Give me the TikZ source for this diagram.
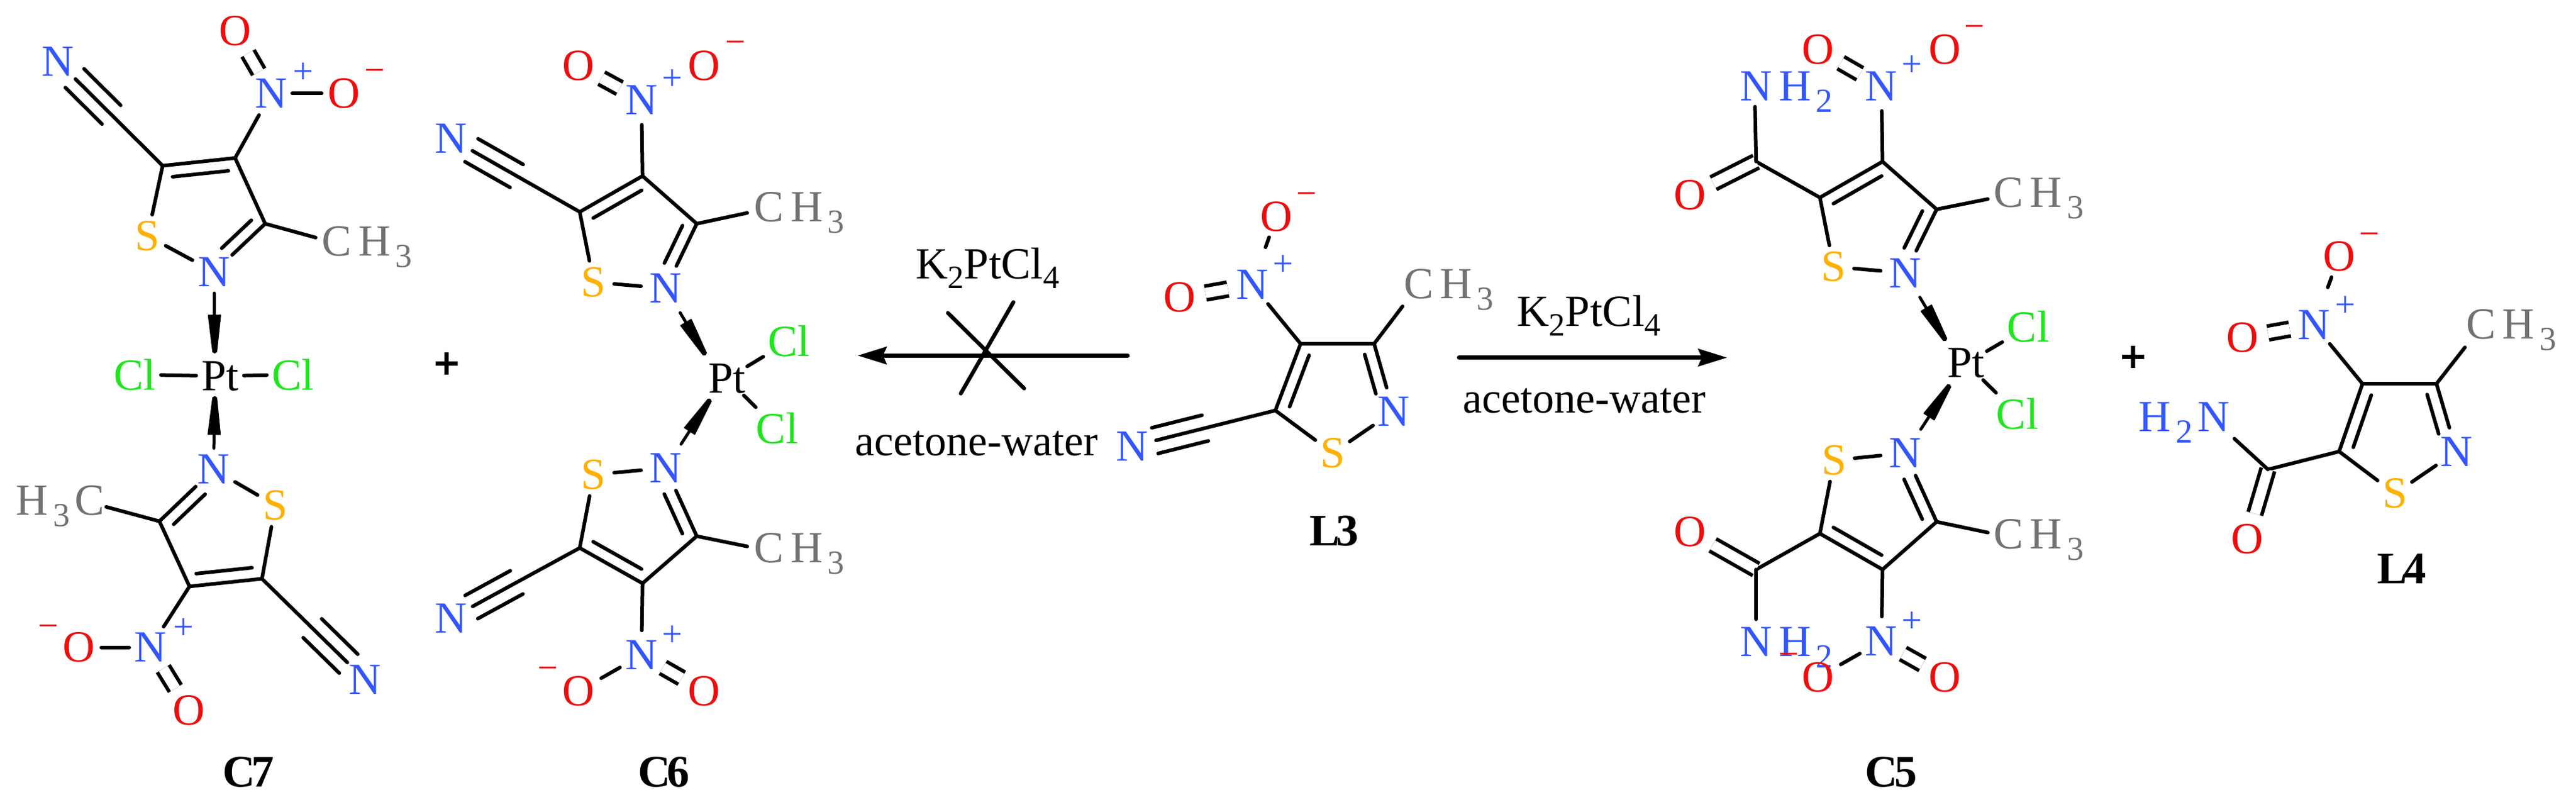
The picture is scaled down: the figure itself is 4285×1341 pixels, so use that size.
\documentclass[tikz,border=0pt]{standalone}
\usepackage{fontspec}
\setmainfont{Liberation Serif}
\usetikzlibrary{calc,arrows.meta}
\definecolor{cN}{HTML}{3355FF}
\definecolor{cO}{HTML}{EE0D0D}
\definecolor{cS}{HTML}{FFB000}
\definecolor{cCl}{HTML}{1EE61E}
\definecolor{cMe}{HTML}{727272}
\newcommand\subt[1]{\raisebox{-16pt}{\fontsize{54}{54}\selectfont #1}}
\newcommand\subg[1]{\hspace{8pt}\raisebox{-19pt}{\fontsize{56}{56}\selectfont #1}}
\newcommand\gapH{\hspace{11pt}}
\tikzset{
  bond/.style={line width=6pt,line cap=round,black},
  arrowline/.style={line width=6.5pt,line cap=round,black,-{Stealth[length=48pt,width=29pt,inset=6pt]}},
  crossline/.style={line width=6.5pt,line cap=round,black},
  dative line/.style={line width=5pt,line cap=round,black},
  dblbond/.style={line width=6pt,double,double distance=17pt,black},
  atom/.style={circle,inner sep=0pt,font=\fontsize{74}{74}\selectfont},
  atomN/.style={atom,text=cN,minimum size=82pt},
  atomO/.style={atom,text=cO,minimum size=86pt},
  atomS/.style={atom,text=cS,minimum size=72pt},
  atomCl/.style={atom,text=cCl,minimum size=86pt},
  atomPt/.style={atom,text=black},
  grp/.style={inner sep=0pt,anchor=base west,yshift=-24.5pt,font=\fontsize{74}{74}\selectfont},
  group/.style={grp,text=cMe},
  amine/.style={grp,text=cN},
  charge/.style={inner sep=0pt,font=\fontsize{60}{60}\selectfont},
  label/.style={inner sep=0pt,font=\fontsize{75}{75}\selectfont\bfseries},
  plussign/.style={inner sep=0pt,font=\fontsize{75}{75}\selectfont\bfseries\addfontfeature{FakeBold=2.5}},
  reagent/.style={inner sep=0pt,anchor=base west,font=\fontsize{74}{74}\selectfont},
  solvent/.style={inner sep=0pt,anchor=base west,font=\fontsize{72}{72}\selectfont},
  unitA/.style={x=0.8929pt,y=-0.8532pt},
  unitB/.style={shift={(1400pt,0pt)},x=0.8929pt,y=-0.8532pt},
  unitC/.style={shift={(2800pt,0pt)},x=0.947pt,y=-0.8532pt},
}
\newcommand\dbl[5]{\draw[bond] ($(#1)!#3!(#2)!#5!90:(#2)$) -- ($(#1)!#4!(#2)!#5!90:(#2)$);}
\newcommand\ring[7]{%
  \coordinate (#1-a) at (#2);
  \coordinate (#1-b) at (#3);
  \coordinate (#1-c) at (#4);
  \node[atomN] (#1-n) at (#5) {N};
  \node[atomS] (#1-s) at (#6) {S};
  \draw[bond] (#1-s) -- (#1-a) -- (#1-b) -- (#1-c) -- (#1-n);
  \draw[bond,shorten >=-2pt] (#1-n) -- (#1-s);
  \dbl{#1-a}{#1-b}{.12}{.89}{#7}
  \dbl{#1-c}{#1-n}{.11}{.69}{#7}
}
\newcommand\nitrile[2]{%
  \draw[bond] (#1) -- (#2);
  \dbl{#1}{#2}{.49}{.84}{22pt}
  \dbl{#1}{#2}{.49}{.84}{-22pt}
}
\newcommand\dative[3]{%
  \draw[dative line,shorten <=#3] (#1) -- (#2);
  \fill[black,draw=black,line width=2pt,line join=round]
    ($(#2)!3pt!90:(#1)$) -- ($(#2)!61pt!(#1)!10pt!90:(#1)$) --
    ($(#2)!61pt!(#1)!10pt!-90:(#1)$) -- ($(#2)!3pt!-90:(#1)$) -- cycle;
}
\begin{document}
\begin{tikzpicture}[x=1pt,y=-1pt]
\useasboundingbox (0,0) rectangle (4285,1341);
\begin{scope}[unitA]
  % C7 top
  \ring{p}{303,323}{438,308}{494,436}{399,530}{275,460}{-20pt}
  \node[atomN] (p-cn) at (108,120) {N};
  \nitrile{p-a}{p-cn}
  \node[atomN] (p-np) at (505,182) {N};
  \node[charge,text=cN] (p-pl) at (565,143) {+};
  \node[atomO] (p-o) at (438,60) {O};
  \node[atomO] (p-om) at (641,182) {O};
  \node[charge,text=cO] (p-mi) at (698,148) {−};
  \draw[bond] (p-b) -- (p-np);
  \draw[dblbond] (p-np) -- (p-o);
  \draw[bond,shorten <=-6pt,shorten >=-6pt] (p-np) -- (p-om);
  \node[group] (p-me) at (600,470) {C\gapH H\subg{3}};
  \coordinate (p-me1) at (588,463);
  \draw[bond] (p-c) -- (p-me1);
  % C7 bottom
  \ring{q}{488,1128}{353,1143}{297,1016}{398,915}{513,985}{-20pt}
  \node[atomN] (q-cn) at (680,1325) {N};
  \nitrile{q-a}{q-cn}
  \node[atomN] (q-np) at (280,1262) {N};
  \node[charge,text=cN] (q-pl) at (342,1225) {+};
  \node[atomO] (q-om) at (147,1262) {O};
  \node[charge,text=cO] (q-mi) at (90,1230) {−};
  \node[atomO] (q-o) at (352,1385) {O};
  \draw[bond] (q-b) -- (q-np);
  \draw[dblbond] (q-np) -- (q-o);
  \draw[bond,shorten <=-6pt,shorten >=-6pt] (q-np) -- (q-om);
  \node[group] (q-me) at (30,975) {H\subg{3}\hspace{8pt}C};
  \coordinate (q-me1) at (198,988);
  \draw[bond] (q-c) -- (q-me1);
  % C7 metal centre
  \node[atomPt] (pt7) at (410,733) {Pt};
  \node[atomCl] (cl7a) at (251,730) {Cl};
  \node[atomCl] (cl7b) at (546,730) {Cl};
  \draw[bond] (cl7a) -- (pt7);
  \draw[bond] (pt7) -- (cl7b);
  \coordinate (t7a) at (400,686);
  \coordinate (t7b) at (400,775);
  \dative{p-n}{t7a}{-6pt}
  \dative{q-n}{t7b}{-6pt}
  \node[label] (c7) at (463,1505) {C\kern-6pt 7};
  \node[plussign] (plus1) at (832,713) {+};
  % C6 top
  \ring{r}{1080,413}{1197,343}{1298,436}{1240,562}{1106,550}{-20pt}
  \node[atomN] (r-cn) at (840,270) {N};
  \nitrile{r-a}{r-cn}
  \node[atomN] (r-np) at (1195,195) {N};
  \node[charge,text=cN] (r-pl) at (1253,155) {+};
  \node[atomO] (r-o) at (1078,128) {O};
  \node[atomO] (r-om) at (1312,128) {O};
  \node[charge,text=cO] (r-mi) at (1370,92) {−};
  \draw[bond] (r-b) -- (r-np);
  \draw[dblbond] (r-np) -- (r-o);
  \node[group] (r-me) at (1405,403) {C\gapH H\subg{3}};
  \coordinate (r-me1) at (1392,415);
  \draw[bond] (r-c) -- (r-me1);
  % C6 bottom
  \ring{s}{1080,1068}{1197,1137}{1298,1045}{1240,912}{1106,925}{20pt}
  \node[atomN] (s-cn) at (840,1205) {N};
  \nitrile{s-a}{s-cn}
  \node[atomN] (s-np) at (1195,1277) {N};
  \node[charge,text=cN] (s-pl) at (1253,1240) {+};
  \node[atomO] (s-om) at (1078,1347) {O};
  \node[charge,text=cO] (s-mi) at (1021,1313) {−};
  \node[atomO] (s-o) at (1312,1347) {O};
  \draw[bond] (s-b) -- (s-np);
  \draw[dblbond] (s-np) -- (s-o);
  \draw[bond] (s-np) -- (s-om);
  \node[group] (s-me) at (1405,1068) {C\gapH H\subg{3}};
  \coordinate (s-me1) at (1392,1065);
  \draw[bond] (s-c) -- (s-me1);
  % C6 metal centre
  \node[atomPt] (pt6) at (1354,738) {Pt};
  \node[atomCl,minimum size=100pt] (cl6a) at (1470,665) {Cl};
  \node[atomCl,minimum size=100pt] (cl6b) at (1448,835) {Cl};
  \draw[bond] (pt6) -- (cl6a);
  \draw[bond] (pt6) -- (cl6b);
  \coordinate (t6a) at (1313,690);
  \coordinate (t6b) at (1322,780);
  \dative{r-n}{t6a}{6pt}
  \dative{s-n}{t6b}{6pt}
  \node[label] (c6) at (1237,1505) {C\kern-6pt 6};
\end{scope}
\begin{scope}[unitB]
  \coordinate (la1) at (533,693);
  \coordinate (la2) at (30,693);
  \draw[arrowline] (la1) -- (la2);
  \coordinate (x1a) at (198,610);
  \coordinate (x1b) at (340,757);
  \coordinate (x2a) at (320,589);
  \coordinate (x2b) at (222,767);
  \draw[crossline] (x1a) -- (x1b);
  \draw[crossline] (x2a) -- (x2b);
  \node[reagent,yshift=-24.5pt] (k1) at (138,515) {K\subt{2}PtCl\subt{4}};
  \node[solvent] (aw1) at (25,888) {acetone-water};
  \ring{l}{808,800}{855,670}{992,670}{1028,802}{915,883}{-20pt}
  \node[atomN] (l-cn) at (541,870) {N};
  \nitrile{l-a}{l-cn}
  \node[atomN] (l-np) at (765,555) {N};
  \node[charge,text=cN] (l-pl) at (822,517) {+};
  \node[atomO] (l-o) at (630,580) {O};
  \node[atomO,minimum size=72pt] (l-om) at (810,422) {O};
  \node[charge,text=cO] (l-mi) at (866,388) {−};
  \draw[bond] (l-b) -- (l-np);
  \draw[dblbond] (l-np) -- (l-o);
  \draw[bond,shorten <=25pt] (l-np) -- (l-om);
  \node[group] (l-me) at (1047,553) {C\gapH H\subg{3}};
  \coordinate (l-me1) at (1045,597);
  \draw[bond] (l-c) -- (l-me1);
  \node[label] (l3) at (918,1035) {L\kern-6pt 3};
  \coordinate (ra1) at (1150,697);
  \node[reagent,yshift=-24.5pt] (k2) at (1258,607) {K\subt{2}PtCl\subt{4}};
  \node[solvent] (aw2) at (1157,805) {acetone-water};
\end{scope}
\begin{scope}[unitC]
  \coordinate (ra2) at (77,697);
  \draw[arrowline] (ra1) -- (ra2);
  % C5 top
  \ring{u}{240,385}{350,315}{445,408}{390,532}{264,520}{-20pt}
  \coordinate (u-k) at (128,315);
  \draw[bond] (u-a) -- (u-k);
  \node[atomO] (u-ko) at (12,380) {O};
  \draw[dblbond] (u-k) -- (u-ko);
  \node[amine] (u-nh) at (100,168) {N\gapH H\subg{2}};
  \coordinate (u-nh1) at (126,208);
  \draw[bond] (u-k) -- (u-nh1);
  \node[atomN] (u-np) at (348,168) {N};
  \node[charge,text=cN] (u-pl) at (402,128) {+};
  \node[atomO] (u-o) at (237,97) {O};
  \node[atomO] (u-om) at (460,97) {O};
  \node[charge,text=cO] (u-mi) at (512,62) {−};
  \draw[bond] (u-b) -- (u-np);
  \draw[dblbond] (u-np) -- (u-o);
  \node[group] (u-me) at (545,375) {C\gapH H\subg{3}};
  \coordinate (u-me1) at (535,388);
  \draw[bond] (u-c) -- (u-me1);
  % C5 bottom
  \ring{v}{240,1040}{350,1110}{445,1017}{390,883}{265,897}{20pt}
  \coordinate (v-k) at (128,1110);
  \draw[bond] (v-a) -- (v-k);
  \node[atomO] (v-ko) at (12,1037) {O};
  \draw[dblbond] (v-k) -- (v-ko);
  \node[amine] (v-nh) at (100,1250) {N\gapH H\subg{2}};
  \coordinate (v-nh1) at (128,1207);
  \draw[bond] (v-k) -- (v-nh1);
  \node[atomN] (v-np) at (348,1250) {N};
  \node[charge,text=cN] (v-pl) at (402,1212) {+};
  \node[atomO] (v-om) at (237,1320) {O};
  \node[charge,text=cO] (v-mi) at (185,1285) {−};
  \node[atomO] (v-o) at (460,1320) {O};
  \draw[bond] (v-b) -- (v-np);
  \draw[dblbond] (v-np) -- (v-o);
  \draw[bond] (v-np) -- (v-om);
  \node[group] (v-me) at (545,1041) {C\gapH H\subg{3}};
  \coordinate (v-me1) at (535,1038);
  \draw[bond] (v-c) -- (v-me1);
  % C5 metal centre
  \node[atomPt] (pt5) at (497,708) {Pt};
  \node[atomCl,minimum size=100pt] (cl5a) at (606,637) {Cl};
  \node[atomCl,minimum size=100pt] (cl5b) at (587,807) {Cl};
  \draw[bond] (pt5) -- (cl5a);
  \draw[bond] (pt5) -- (cl5b);
  \coordinate (t5a) at (460,662);
  \coordinate (t5b) at (467,752);
  \dative{u-n}{t5a}{6pt}
  \dative{v-n}{t5b}{6pt}
  \node[label] (c5) at (365,1505) {C\kern-6pt 5};
  \node[plussign] (plus2) at (790,700) {+};
  % L4
  \ring{w}{1152,880}{1193,748}{1323,748}{1358,880}{1250,962}{-20pt}
  \coordinate (w-k) at (1027,915);
  \draw[bond] (w-a) -- (w-k);
  \node[atomO] (w-ko) at (991,1050) {O};
  \draw[dblbond] (w-k) -- (w-ko);
  \node[amine] (w-nh) at (800,812) {H\subg{2}\hspace{8pt}N};
  \coordinate (w-nh1) at (968,855);
  \draw[bond] (w-k) -- (w-nh1);
  \node[atomN] (w-np) at (1108,633) {N};
  \node[charge,text=cN] (w-pl) at (1163,597) {+};
  \node[atomO] (w-o) at (982,658) {O};
  \node[atomO,minimum size=72pt] (w-om) at (1152,500) {O};
  \node[charge,text=cO] (w-mi) at (1205,466) {−};
  \draw[bond] (w-b) -- (w-np);
  \draw[dblbond] (w-np) -- (w-o);
  \draw[bond,shorten <=25pt] (w-np) -- (w-om);
  \node[group] (w-me) at (1375,632) {C\gapH H\subg{3}};
  \coordinate (w-me1) at (1373,677);
  \draw[bond] (w-c) -- (w-me1);
  \node[label] (l4) at (1262,1108) {L\kern-6pt 4};
\end{scope}
\end{tikzpicture}
\end{document}
